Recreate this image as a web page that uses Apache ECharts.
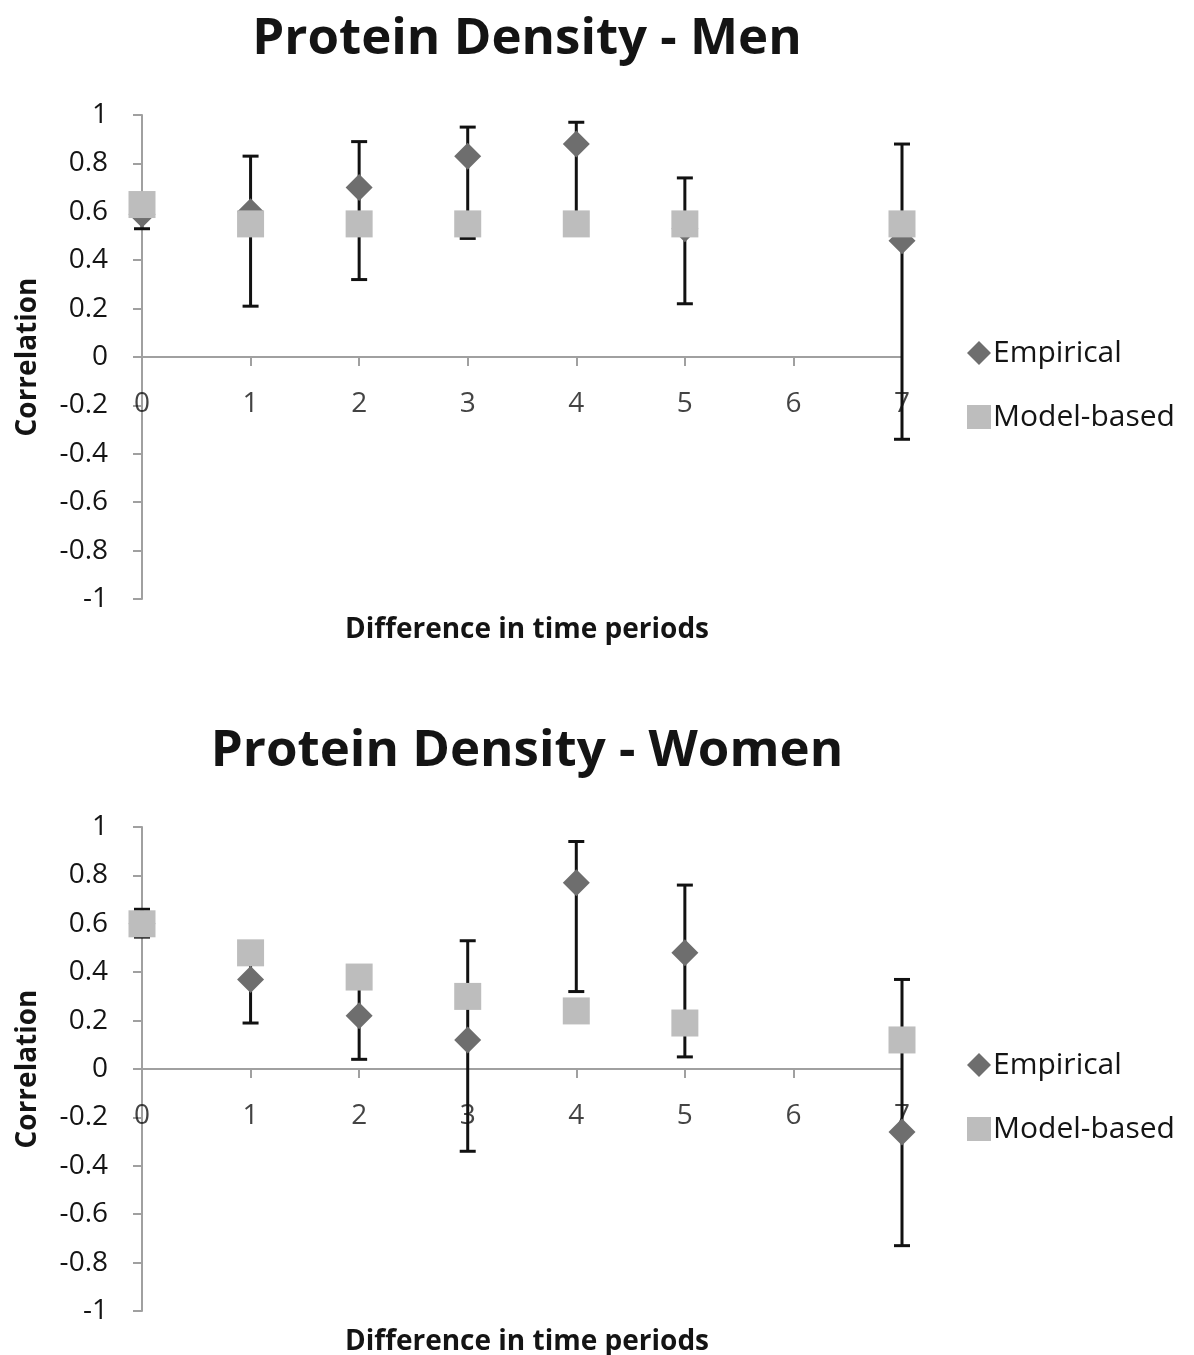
<!DOCTYPE html>
<html>
<head>
<meta charset="utf-8">
<script src="https://cdn.jsdelivr.net/npm/echarts@6/dist/echarts.min.js"></script>
<style>
html,body{margin:0;padding:0;background:#fff;}
#c{width:1194px;height:1355px;}
</style>
</head>
<body>
<div id="c"></div>
<script>
// Time-period differences (x) at which points exist
const lags = [0, 1, 2, 3, 4, 5, 7];
// x-axis tick labels (drawn along the zero line)
const xTicks = [0, 1, 2, 3, 4, 5, 6, 7];

// Men
const menEmpirical = [0.59, 0.60, 0.70, 0.83, 0.88, 0.53, 0.48];
const menModel     = [0.63, 0.55, 0.55, 0.55, 0.55, 0.55, 0.55];
const menLower     = [0.53, 0.21, 0.32, 0.49, 0.56, 0.22, -0.34];
const menUpper     = [0.65, 0.83, 0.89, 0.95, 0.97, 0.74, 0.88];

// Women
const womenEmpirical = [0.60, 0.37, 0.22, 0.12, 0.77, 0.48, -0.26];
const womenModel     = [0.60, 0.48, 0.38, 0.30, 0.24, 0.19, 0.12];
const womenLower     = [0.545, 0.19, 0.04, -0.34, 0.32, 0.05, -0.73];
const womenUpper     = [0.66, 0.45, 0.35, 0.53, 0.94, 0.76, 0.37];

const titles = ['Protein Density - Men', 'Protein Density - Women'];
const xName = 'Difference in time periods';
const yName = 'Correlation';

const FONT = '"Open Sans", Lato, sans-serif';
const TXT = '#141414';
const pairs = (xs, ys) => xs.map((x, i) => [x, ys[i]]);
const triples = (xs, lo, hi) => xs.map((x, i) => [x, lo[i], hi[i]]);

function errorRender(params, api) {
  const x = api.value(0), lo = api.value(1), hi = api.value(2);
  const pHi = api.coord([x, hi]), pLo = api.coord([x, lo]);
  const cw = 8;
  const st = {stroke: '#111', lineWidth: 3};
  return {type: 'group', children: [
    {type: 'line', shape: {x1: pHi[0], y1: pHi[1], x2: pLo[0], y2: pLo[1]}, style: st},
    {type: 'line', shape: {x1: pHi[0] - cw, y1: pHi[1], x2: pHi[0] + cw, y2: pHi[1]}, style: st},
    {type: 'line', shape: {x1: pLo[0] - cw, y1: pLo[1], x2: pLo[0] + cw, y2: pLo[1]}, style: st}
  ]};
}

const gridTops = [115, 827];
const gridH = 484;

const grids = gridTops.map(t => ({left: 142, width: 760, top: t, height: gridH}));

const xAxes = [0, 1].map(i => ({
  type: 'value', gridIndex: i, min: 0, max: 7, interval: 1,
  axisLine: {onZero: true, lineStyle: {color: '#a0a0a0', width: 2}},
  axisTick: {show: true, length: 9, lineStyle: {color: '#a0a0a0', width: 2}},
  axisLabel: {show: false},
  splitLine: {show: false}
}));

const yAxes = [0, 1].map(i => ({
  type: 'value', gridIndex: i, min: -1, max: 1, interval: 0.2,
  name: yName, nameLocation: 'middle', nameGap: 100,
  nameTextStyle: {fontSize: 28, fontWeight: 'bold', color: TXT, fontFamily: FONT},
  axisLine: {show: true, lineStyle: {color: '#a0a0a0', width: 2}},
  axisTick: {show: true, length: 9, lineStyle: {color: '#a0a0a0', width: 2}},
  axisLabel: {margin: 34, fontSize: 28, color: TXT, fontFamily: FONT,
    formatter: v => String(Math.round(v * 10) / 10)},
  splitLine: {show: false}
}));

const sets = [
  {emp: menEmpirical, mod: menModel, lo: menLower, hi: menUpper},
  {emp: womenEmpirical, mod: womenModel, lo: womenLower, hi: womenUpper}
];

const series = [];
sets.forEach((s, i) => {
  // x tick labels placed at y = 0 via the axes' scales
  series.push({
    type: 'scatter', name: 'xlabels' + i, xAxisIndex: i, yAxisIndex: i, z: 0,
    symbolSize: 0, silent: true,
    data: xTicks.map(v => [v, 0]),
    label: {show: true, position: 'bottom', distance: 33,
      formatter: p => String(p.value[0]),
      fontSize: 28, color: TXT, fontFamily: FONT}
  });
  series.push({
    type: 'custom', name: 'err' + i, xAxisIndex: i, yAxisIndex: i, z: 1,
    renderItem: errorRender, data: triples(lags, s.lo, s.hi),
    encode: {x: 0, y: [1, 2]}, silent: true
  });
  series.push({
    type: 'scatter', name: 'Empirical', xAxisIndex: i, yAxisIndex: i, z: 2,
    symbol: 'diamond', symbolSize: 27,
    itemStyle: {color: '#6e6e6e', opacity: 1},
    data: pairs(lags, s.emp)
  });
  series.push({
    type: 'scatter', name: 'Model-based', xAxisIndex: i, yAxisIndex: i, z: 3,
    symbol: 'rect', symbolSize: 27,
    itemStyle: {color: '#bdbdbd', opacity: 1},
    data: pairs(lags, s.mod)
  });
});

const titleComps = [];
titles.forEach((t, i) => {
  titleComps.push({text: t, left: 522, textAlign: 'center', top: gridTops[i] - 106,
    textStyle: {fontSize: 51, fontWeight: 'bold', color: TXT, fontFamily: FONT}});
  titleComps.push({text: xName, left: 522, textAlign: 'center', top: gridTops[i] + 496,
    textStyle: {fontSize: 28, fontWeight: 'bold', color: TXT, fontFamily: FONT}});
});

const legends = gridTops.map((t, i) => ({
  orient: 'vertical', left: 962, top: t + 218, itemGap: 34,
  itemWidth: 24, itemHeight: 24,
  data: [{name: 'Empirical', icon: 'diamond'}, {name: 'Model-based', icon: 'rect'}],
  textStyle: {fontSize: 30, color: TXT, fontFamily: FONT, padding: [0, 0, 0, -3]},
  selectedMode: false
}));

const chart = echarts.init(document.getElementById('c'), null, {renderer: 'canvas'});
chart.setOption({
  backgroundColor: '#fff',
  animation: false,
  title: titleComps,
  legend: legends,
  grid: grids,
  xAxis: xAxes,
  yAxis: yAxes,
  series: series
});
</script>
</body>
</html>
